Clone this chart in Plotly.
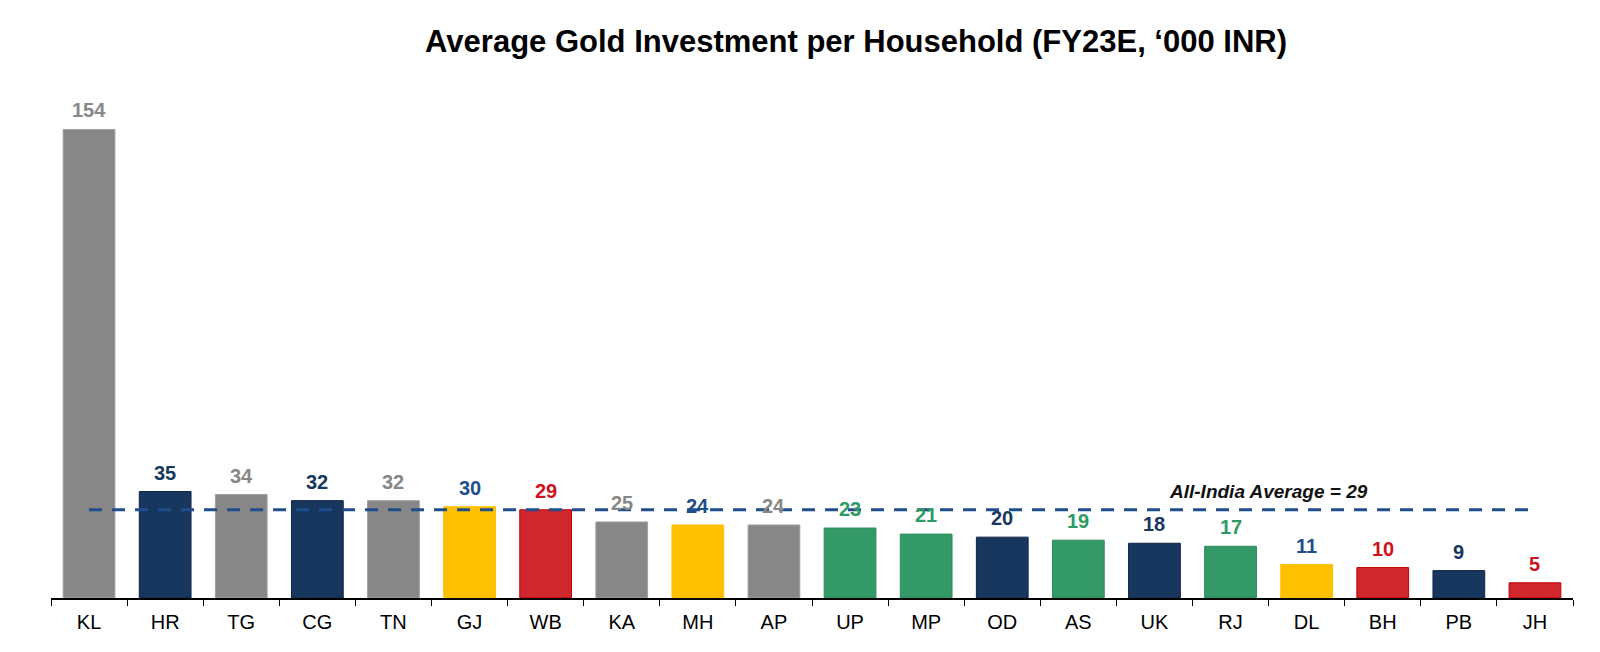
import plotly.graph_objects as go

states = ["KL", "HR", "TG", "CG", "TN", "GJ", "WB", "KA", "MH", "AP",
          "UP", "MP", "OD", "AS", "UK", "RJ", "DL", "BH", "PB", "JH"]
values = [154, 35, 34, 32, 32, 30, 29, 25, 24, 24,
          23, 21, 20, 19, 18, 17, 11, 10, 9, 5]
groups = ["gray", "navy", "gray", "navy", "gray", "yellow", "red", "gray", "yellow", "gray",
          "green", "green", "navy", "green", "navy", "green", "yellow", "red", "navy", "red"]
india_avg = 29

bar_colors = {"gray": "#878787", "navy": "#17375E", "yellow": "#FFC000",
              "red": "#D0262D", "green": "#339966"}
line_colors = {"gray": "#a0a0a0", "navy": "#0f2346", "yellow": "#FFC000",
               "red": "#C00000", "green": "#2f8a5c"}
label_colors = {"gray": "#878787", "navy": "#17375E", "yellow": "#1F4E8C",
                "red": "#D0101A", "green": "#2E9A64"}

FONT = "Liberation Sans, Arial"

fig = go.Figure()
fig.add_trace(go.Bar(
    x=states, y=values, width=0.68,
    marker=dict(color=[bar_colors[g] for g in groups],
                line=dict(color=[line_colors[g] for g in groups], width=1)),
    showlegend=False, hoverinfo="x+y",
))

for s, v, g in zip(states, values, groups):
    fig.add_annotation(x=s, y=v, xref="x", yref="y", yshift=19, yanchor="middle",
                       text=f"<b>{v}</b>", showarrow=False,
                       font=dict(family=FONT, size=20, color=label_colors[g]))

fig.add_shape(type="line", xref="x", yref="y", x0=0, x1=len(states) - 1,
              y0=india_avg, y1=india_avg,
              line=dict(color="#1F4E8C", width=3, dash="13px,10px"))
fig.add_annotation(x=15.5, y=india_avg, xref="x", yref="y", yshift=18, yanchor="middle",
                   text=f"<b><i>All-India Average = {india_avg}</i></b>", showarrow=False,
                   font=dict(family=FONT, size=19, color="#111111"))

fig.update_layout(
    title=dict(text="<b>Average Gold Investment per Household (FY23E, ‘000 INR)</b>",
               x=0.5354, xanchor="center", y=0.948, yanchor="middle",
               font=dict(family=FONT, size=31, color="black")),
    width=1584, height=636,
    margin=dict(l=43, r=19, t=88, b=46),
    plot_bgcolor="white", paper_bgcolor="white",
)
fig.update_xaxes(type="category", showline=True, linecolor="black", linewidth=1.5,
                 ticks="outside", tickson="boundaries", ticklen=6, tickcolor="black",
                 tickfont=dict(family=FONT, size=20, color="black"),
                 ticklabelstandoff=5,
                 showgrid=False, range=[-0.5, len(states) - 0.5])
fig.update_yaxes(range=[0, 165], visible=False, showgrid=False)

fig.write_html("out.html")
